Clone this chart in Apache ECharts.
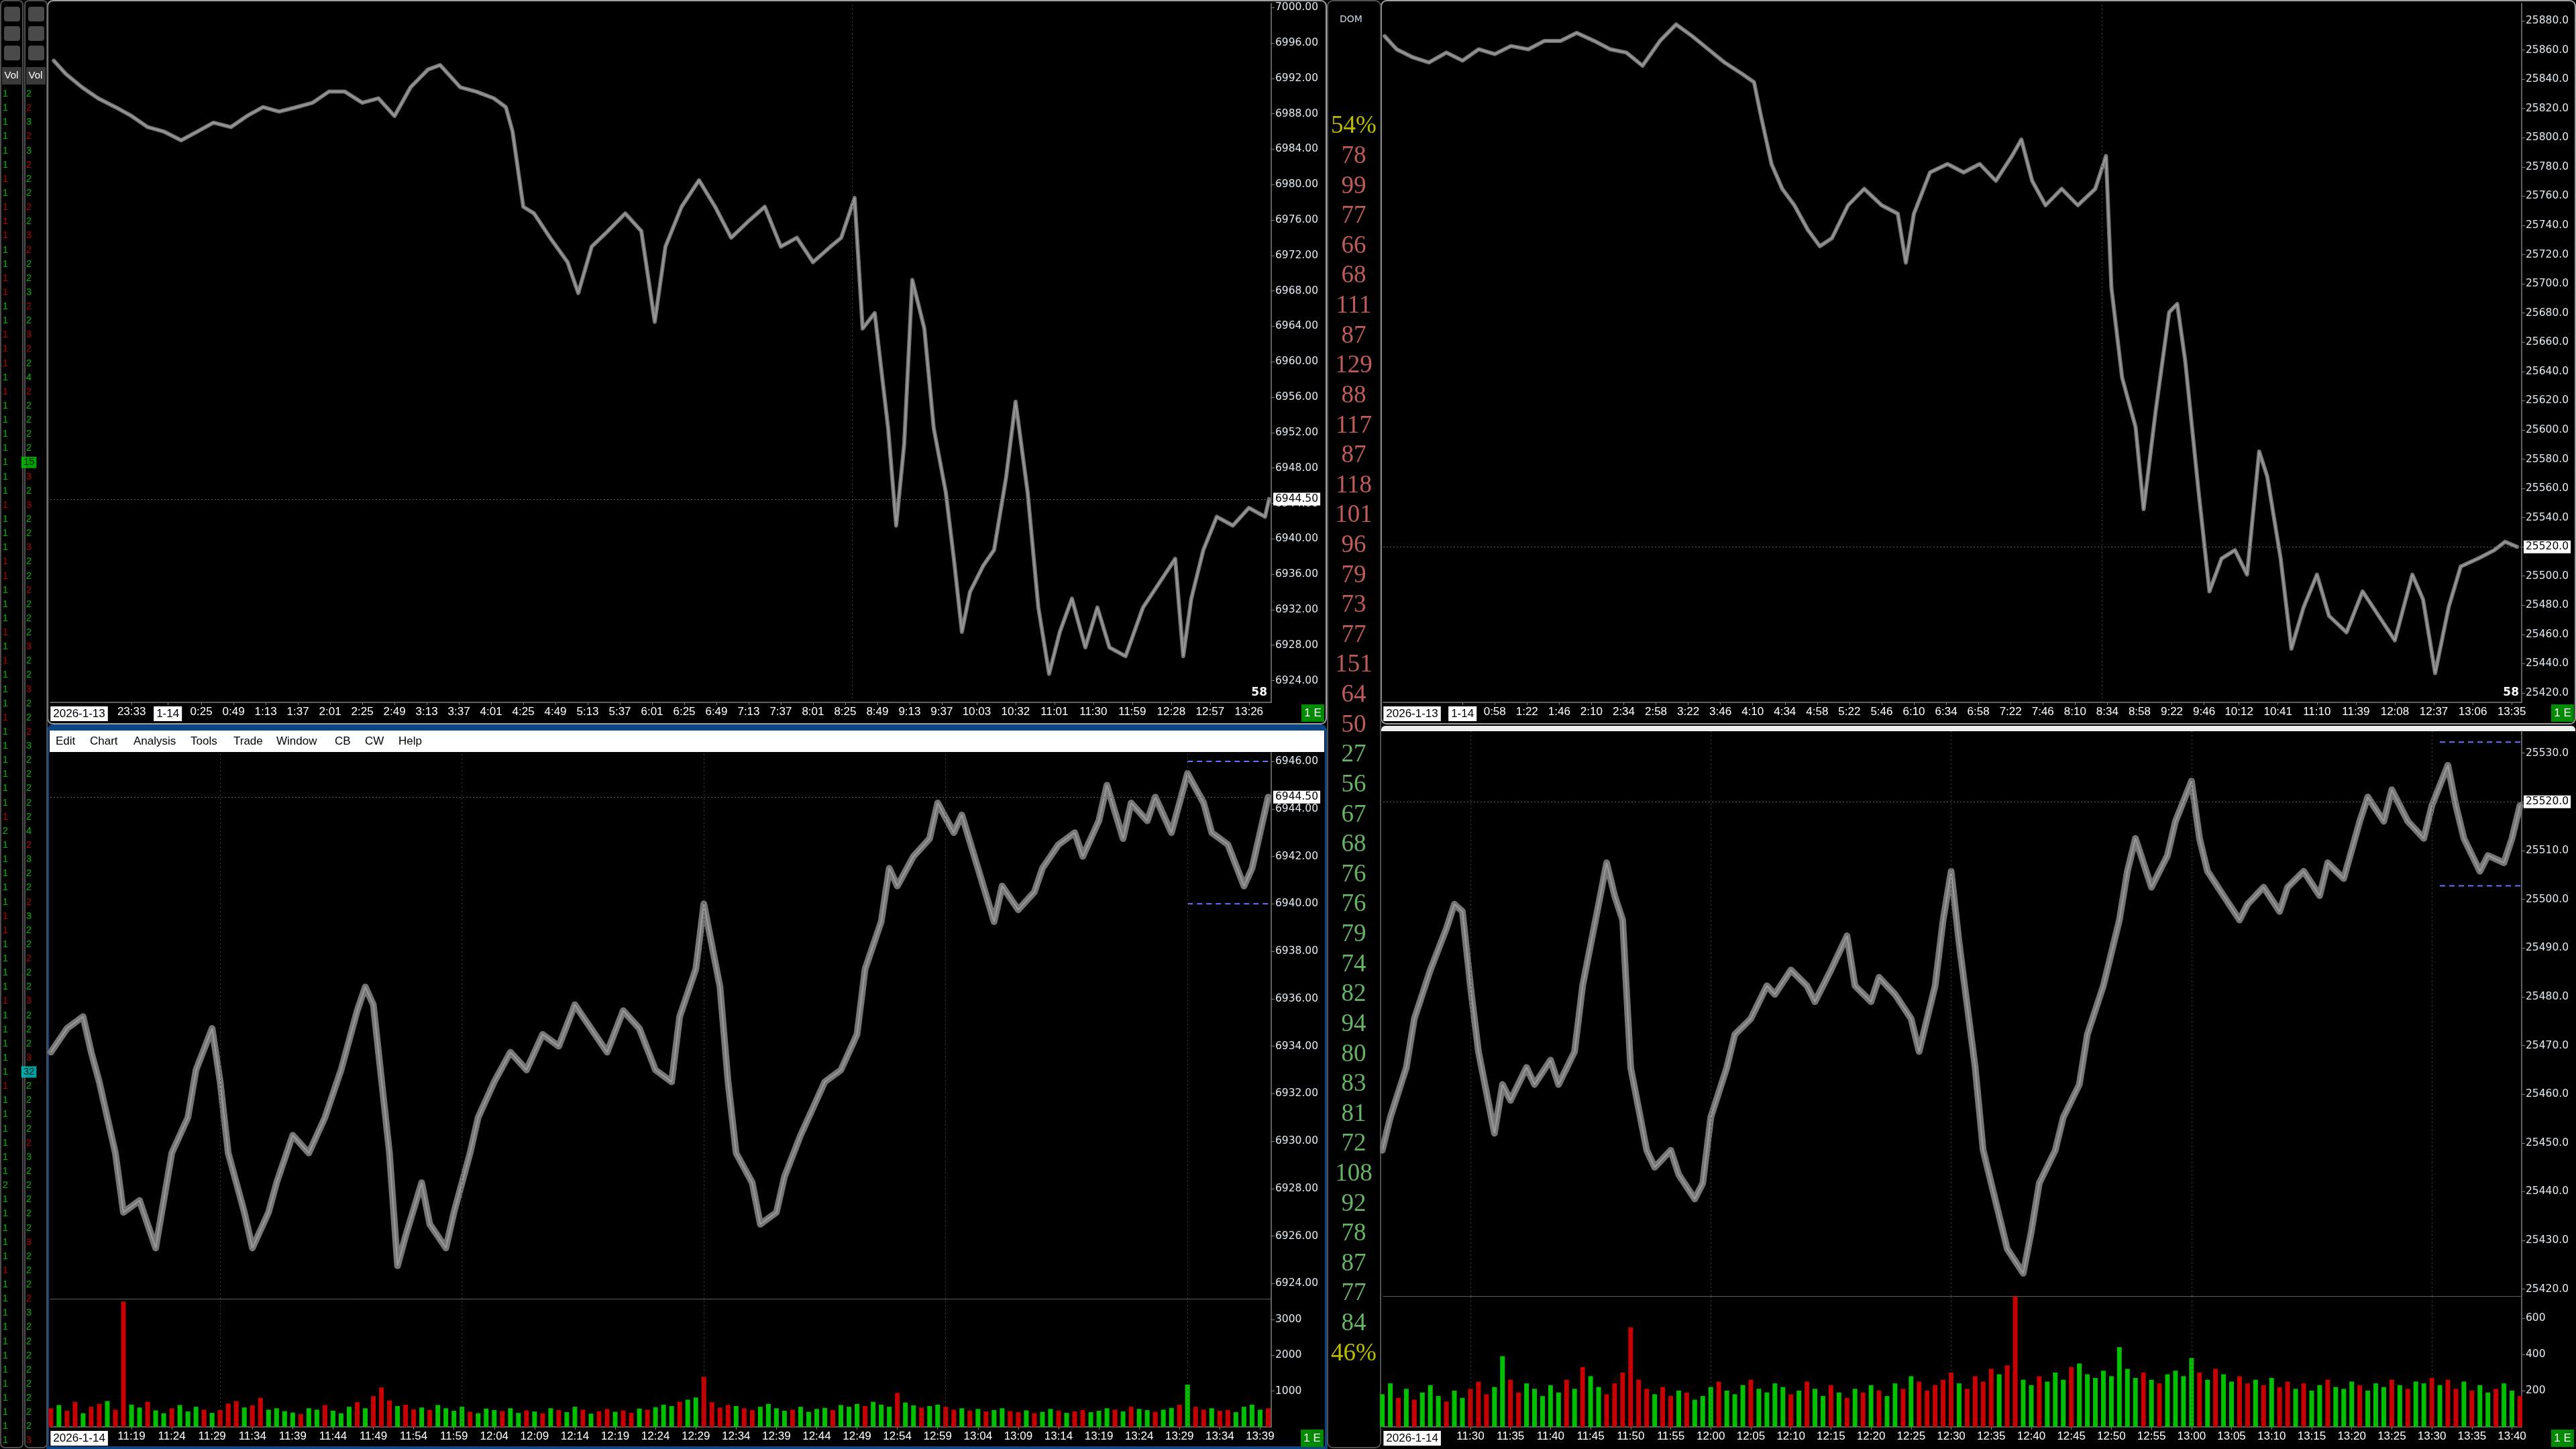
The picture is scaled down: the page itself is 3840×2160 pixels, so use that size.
<!DOCTYPE html>
<html><head><meta charset="utf-8">
<script src="https://cdn.jsdelivr.net/npm/echarts@6/dist/echarts.min.js"></script>
<style>html,body{margin:0;padding:0;background:#000;}#c{width:3840px;height:2160px;}</style>
</head><body><div id="c"></div>
<script>
// ================= DATA =================
// Top-left: ES overnight session (times on 1-13 are >= 20:00)
const tlTimes = ['22:35','22:44','22:56','23:08','23:21','23:33','23:45','23:57','00:10','00:22',
 '00:34','00:47','00:59','01:11','01:23','01:36','01:48','02:00','02:12','02:25',
 '02:37','02:49','03:01','03:14','03:23','03:38','03:50','04:03','04:12','04:17',
 '04:25','04:33','04:45','04:58','05:06','05:16','05:28','05:41','05:53','06:03',
 '06:11','06:23','06:36','06:48','07:00','07:12','07:25','07:37','07:49','08:01',
 '08:14','08:22','08:32','08:38','08:47','08:57','09:03','09:09','09:15','09:24',
 '09:31','09:40','09:46','09:52','09:58','10:08','10:16','10:25','10:32','10:41',
 '10:49','10:57','11:05','11:14','11:24','11:33','11:42','11:54','12:07','12:19',
 '12:31','12:37','12:43','12:52','13:02','13:14','13:26','13:38','13:41'];
const tlPrices = [6994,6992.5,6991,6989.75,6988.75,6987.75,6986.5,6986,6985,6986,
 6987,6986.5,6987.75,6988.75,6988.25,6988.75,6989.25,6990.5,6990.5,6989.25,
 6989.75,6987.75,6991,6993,6993.5,6991,6990.5,6989.75,6988.75,6986,
 6977.5,6976.75,6974,6971.25,6967.75,6973,6974.75,6976.75,6974.75,6964.5,
 6973,6977.5,6980.5,6977.5,6974,6975.75,6977.5,6973,6974,6971.25,
 6973,6974,6978.5,6963.75,6965.5,6952.5,6941.5,6950.75,6969.25,6963.75,
 6952.5,6945.25,6937.75,6929.5,6934,6937,6938.75,6947,6955.5,6945.25,
 6932.25,6924.75,6929.5,6933.25,6927.75,6932.25,6927.75,6926.75,6932.25,6935,
 6937.75,6926.75,6933.25,6938.75,6942.5,6941.5,6943.5,6942.5,6944.5];

// Top-right: NQ overnight session
const trTimes = ['23:36','23:45','23:57','00:09','00:22','00:34','00:46','00:58','01:10','01:23',
 '01:35','01:47','01:59','02:12','02:24','02:36','02:48','03:01','03:13','03:25',
 '03:37','03:49','04:02','04:11','04:16','04:24','04:32','04:41','04:51','05:00',
 '05:09','05:21','05:33','05:46','05:58','06:04','06:10','06:22','06:35','06:47',
 '06:59','07:11','07:23','07:30','07:38','07:48','08:00','08:12','08:25','08:33',
 '08:37','08:45','08:55','09:01','09:10','09:20','09:26','09:32','09:42','09:50',
 '09:59','10:09','10:18','10:27','10:33','10:43','10:51','11:00','11:10','11:19',
 '11:32','11:44','11:56','12:08','12:21','12:29','12:38','12:48','12:57','13:10',
 '13:22','13:30','13:39'];
const trPrices = [25869.5,25860.5,25855,25851.5,25858.25,25852.75,25860.5,25857.25,25862.75,25860.5,
 25866.25,25866.25,25871.75,25866.25,25860.5,25858.25,25849.25,25866.25,25877.5,25869.5,
 25860.5,25851.5,25843.75,25838,25815.5,25782,25765,25753.75,25737,25725.75,
 25731.25,25753.75,25765,25753.75,25748,25714.5,25748,25776.25,25782,25776.25,
 25782,25770.5,25787.5,25798.75,25770.5,25753.75,25765,25753.75,25765,25787.5,
 25697.5,25635.75,25602,25545.75,25613.25,25680.5,25686.25,25647,25557,25489.5,
 25512,25517.75,25501,25585.25,25568.25,25512,25450.25,25478.5,25501,25472.75,
 25461.5,25489.5,25472.75,25456,25501,25484,25433.5,25478.5,25506.5,25512,
 25517.75,25523.5,25520];

// Bottom-left: ES intraday 1-14
const blTimes = ['11:09','11:11','11:13','11:14','11:15','11:17','11:18','11:20','11:22','11:24',
 '11:26','11:27','11:29','11:30','11:31','11:33','11:34','11:36','11:37','11:39',
 '11:41','11:43','11:45','11:47','11:48','11:49','11:51','11:52','11:53','11:55',
 '11:56','11:58','11:59','12:01','12:02','12:04','12:06','12:08','12:10','12:12',
 '12:14','12:16','12:18','12:20','12:22','12:24','12:26','12:27','12:29','12:30',
 '12:32','12:33','12:34','12:36','12:37','12:39','12:40','12:42','12:44','12:45',
 '12:47','12:49','12:50','12:52','12:53','12:54','12:56','12:58','12:59','13:01',
 '13:02','13:04','13:06','13:07','13:09','13:11','13:12','13:14','13:16','13:17',
 '13:19','13:20','13:22','13:23','13:25','13:26','13:28','13:29','13:30','13:32',
 '13:33','13:35','13:37','13:38','13:39','13:40'];
const blPrices = [6933.75,6934.75,6935.25,6933.75,6932.5,6929.5,6927,6927.5,6925.5,6929.5,
 6931,6933,6934.75,6932.5,6929.5,6927,6925.5,6927,6928.25,6930.25,
 6929.5,6931,6933,6935.5,6936.5,6935.75,6929.5,6924.75,6926,6928.25,
 6926.5,6925.5,6927,6929.5,6931,6932.5,6933.75,6933,6934.5,6934,
 6935.75,6934.75,6933.75,6935.5,6934.75,6933,6932.5,6935.25,6937.25,6940,
 6936.5,6932.5,6929.5,6928.25,6926.5,6927,6928.5,6930.25,6931.75,6932.5,
 6933,6934.5,6937.25,6939.25,6941.5,6940.75,6942,6942.75,6944.25,6943,
 6943.75,6941.5,6939.25,6940.75,6939.75,6940.5,6941.5,6942.5,6943,6942,
 6943.5,6945,6942.75,6944.25,6943.5,6944.5,6943,6944.25,6945.5,6944.25,
 6943,6942.5,6940.75,6941.5,6943,6944.5];

// Bottom-right: NQ intraday 1-14
const brTimes = ['11:19','11:20','11:22','11:23','11:25','11:27','11:28','11:29','11:30','11:31',
 '11:33','11:34','11:35','11:37','11:38','11:40','11:41','11:43','11:44','11:46',
 '11:47','11:48','11:49','11:50','11:52','11:53','11:55','11:56','11:58','11:59',
 '12:00','12:02','12:03','12:05','12:07','12:08','12:10','12:12','12:13','12:15',
 '12:17','12:18','12:20','12:21','12:23','12:25','12:26','12:28','12:29','12:30',
 '12:31','12:33','12:34','12:35','12:36','12:37','12:39','12:40','12:41','12:43',
 '12:44','12:46','12:47','12:49','12:51','12:52','12:53','12:55','12:57','12:58',
 '13:00','13:01','13:02','13:04','13:06','13:07','13:09','13:11','13:12','13:14',
 '13:16','13:17','13:19','13:21','13:22','13:24','13:25','13:27','13:29','13:30',
 '13:32','13:33','13:34','13:36','13:37','13:39','13:40','13:41'];
const brPrices = [25448.5,25455.25,25465.5,25475.5,25485.5,25494,25499,25497.5,25482.25,25468.75,
 25452,25462,25458.75,25465.5,25462,25467,25462,25468.75,25482.25,25499,
 25507.5,25500.75,25495.75,25465.5,25448.5,25445,25448.5,25443.5,25438.5,25441.75,
 25455.25,25465.5,25472.25,25475.5,25482.25,25480.5,25485.5,25482.25,25479,25485.5,
 25492.5,25482.25,25479,25484,25480.5,25475.5,25468.75,25482.25,25495.75,25505.75,
 25491,25465.5,25448.5,25441.75,25435,25428.25,25423.25,25431.75,25441.75,25448.5,
 25455.25,25462,25472.25,25482.25,25495.75,25505.75,25512.5,25502.5,25509,25516,
 25524.25,25512.5,25505.75,25500.75,25495.75,25499,25502.5,25497.5,25502.5,25505.75,
 25500.75,25507.5,25504.25,25516,25521,25516,25522.5,25516,25512.5,25519.25,
 25527.5,25519.25,25512.5,25505.75,25509,25507.5,25512.5,25519.25];

// Volume per minute (g = up, r = down)
const blVolStart = '11:09';
const blVol = [520,610,450,700,380,560,640,720,480,3500,
 620,540,700,460,380,520,610,430,560,480,
 390,470,650,720,540,600,810,480,520,440,
 400,360,520,480,610,450,380,560,690,520,
 860,1100,740,580,620,490,540,470,610,520,
 450,560,420,380,510,470,440,520,390,460,
 430,380,520,470,410,560,480,370,440,500,
 420,460,390,510,480,550,620,580,700,760,
 820,1400,690,540,610,580,520,470,560,640,
 520,450,480,560,420,500,530,470,610,560,
 640,580,700,620,560,950,680,600,540,580,
 620,560,480,520,450,500,430,470,520,440,
 410,460,380,420,500,450,390,430,470,410,
 450,520,480,430,560,500,470,420,480,530,
 620,1180,560,480,520,450,470,410,560,620,480,520];
const blVolDir = 'rgrrgrrgrr'+'ggrggrgggr'+'grrrgrrggg'+'grggrgggrg'+'rrrgrrgrgg'+'ggrgggrggr'+'grgrggrgrr'+
 'grrgrgggrg'+'grrrrgrrgg'+'ggrggggrgg'+'grgggrggrg'+'grrgrgrggr'+'rgrggrgrrg'+'ggrgrggrgg'+'rgrrgrrggggr';
const brVolStart = '11:19';
const brVol = [180,240,160,210,150,190,230,170,140,200,
 160,210,250,180,220,390,260,190,240,210,
 170,230,190,260,210,330,280,220,180,240,
 300,550,260,210,180,220,170,200,190,150,
 170,220,250,200,180,230,260,210,190,240,
 220,180,200,250,210,170,230,190,160,210,
 190,230,200,170,240,210,280,250,200,230,
 260,300,240,210,280,250,320,290,340,720,
 260,230,280,250,300,260,330,350,290,270,
 310,280,440,320,270,300,260,240,290,310,
 280,380,300,260,320,290,250,280,240,260,
 230,270,220,250,210,240,200,230,260,220,
 210,250,230,200,240,220,260,230,210,250,
 240,270,230,260,210,250,200,230,190,210,
 240,200,170];
const brVolDir = 'ggrgrgggrg'+'grrrggrrgg'+'gggrgrggrr'+'rrrrgrrgrg'+'ggrgggrggg'+'grgrggrgrg'+'rgrggrgrrr'+
 'rrgrrrrgrr'+'ggrgggrggg'+'gggggrgrgg'+'ggrgrggrrg'+'rgrrgrggrg'+'ggrgggrgrg'+'grgrrgrggr'+'ggr';

// Last prices, range markers, session lines
const lastES = 6944.50, lastNQ = 25520.0;
const blRange = [6940, 6946], blRangeStart = '13:30';
const brRange = [25502.75, 25532.25], brRangeStart = '13:31';
const sessionOpen = ['08:30'];
const halfHours = ['11:30','12:00','12:30','13:00','13:30'];

// Axis tick labels
const tlYTicks = [6924,6928,6932,6936,6940,6944,6948,6952,6956,6960,6964,6968,6972,6976,6980,6984,6988,6992,6996,7000];
const trYTicks = [25420,25440,25460,25480,25500,25520,25540,25560,25580,25600,25620,25640,25660,25680,25700,25720,25740,25760,25780,25800,25820,25840,25860,25880];
const blYTicks = [6924,6926,6928,6930,6932,6934,6936,6938,6940,6942,6944,6946];
const brYTicks = [25420,25430,25440,25450,25460,25470,25480,25490,25500,25510,25520,25530];
const blVolTicks = [1000,2000,3000];
const brVolTicks = [200,400,600];
const tlXLabels = ['2026-1-13','23:33','1-14','0:25','0:49','1:13','1:37','2:01','2:25','2:49','3:13','3:37','4:01','4:25','4:49','5:13','5:37','6:01','6:25','6:49','7:13','7:37','8:01','8:25','8:49','9:13','9:37','10:03','10:32','11:01','11:30','11:59','12:28','12:57','13:26'];
const tlDayTick = '0:00';
const trXLabels = ['2026-1-13','1-14','0:58','1:22','1:46','2:10','2:34','2:58','3:22','3:46','4:10','4:34','4:58','5:22','5:46','6:10','6:34','6:58','7:22','7:46','8:10','8:34','8:58','9:22','9:46','10:12','10:41','11:10','11:39','12:08','12:37','13:06','13:35'];
const trDayTick = '0:34';
const blXLabels = ['2026-1-14','11:19','11:24','11:29','11:34','11:39','11:44','11:49','11:54','11:59','12:04','12:09','12:14','12:19','12:24','12:29','12:34','12:39','12:44','12:49','12:54','12:59','13:04','13:09','13:14','13:19','13:24','13:29','13:34','13:39'];
const brXLabels = ['2026-1-14','11:30','11:35','11:40','11:45','11:50','11:55','12:00','12:05','12:10','12:15','12:20','12:25','12:30','12:35','12:40','12:45','12:50','12:55','13:00','13:05','13:10','13:15','13:20','13:25','13:30','13:35','13:40'];

// DOM ladder
const domAskShare = '54%';
const domAsks = [78,99,77,66,68,111,87,129,88,117,87,118,101,96,79,73,77,151,64,50];
const domBids = [27,56,67,68,76,76,79,74,82,94,80,83,81,72,108,92,78,87,77,84];
const domBidShare = '46%';

// Left strip columns (value digits, colour g/r)
const stripCol1Vals = '11111111'+'11111111'+'11111111'+'11111111'+'11111111'+'11111111'+'11112111'+'11111111'+'11111111'+'11111211'+'11111111'+'11111111';
const stripCol1Dir  = 'ggggggrg'+'rrrggrrg'+'grrrgrgg'+'gggggrgg'+'grrgggrg'+'rgggrggg'+'gggrgggg'+'ggrrgggg'+'rgggggrg'+'gggggggg'+'gggrgggg'+'gggggggg';
const stripCol2Vals = '22323222'+'22322232'+'23224222'+'22232322'+'32222223'+'22322232'+'22224232'+'22322222'+'32223222'+'22232222'+'23222232'+'22222223';
const stripCol2Dir  = 'grgrgrgg'+'rgrrgggr'+'grrggrgg'+'gggrgrgg'+'rggrgggr'+'ggrggrgg'+'gggggrgg'+'grgggrgg'+'rgggrggg'+'ggrggggg'+'grgggrgg'+'gggggggr';
const stripCol2Marks = {26: ['15', '#00c800'], 69: ['32', '#00c8c8']};

// ================= BUILD =================
const FX = 'Liberation Sans, Arial, sans-serif';
const FY = 'DejaVu Sans, Verdana, sans-serif';
const AXC = '#808080';
function tmin(s){ const p=s.split(':').map(Number); let v=p[0]*60+p[1]; if(p[0]>=20) v-=1440; return v; }
const zip = (ts, ps) => ts.map((t,i)=>[tmin(t), ps[i]]);

function mkY(gi, min, max, ticks, dec){
  return {type:'value', gridIndex:gi, position:'right', min, max,
    axisLine:{show:true, onZero:false, lineStyle:{color:AXC, width:1.5}},
    axisTick:{show:true, length:5, customValues:ticks, lineStyle:{color:AXC}},
    axisLabel:{show:true, customValues:ticks, margin:6, color:'#e2eaf2', fontFamily:FY, fontSize:15.5,
      formatter:v=>Number(v).toFixed(dec)},
    splitLine:{show:false}};
}
function mkX(gi, min, max, labels, dayTick, show){
  const vals = labels.map((s,i)=> i===0 ? min+0.01 : (s.indexOf('-')>=0 ? tmin(dayTick) : tmin(s)));
  return {type:'value', gridIndex:gi, min, max,
    axisLine:{show:true, onZero:false, lineStyle:{color:show?AXC:'#5c5c5c', width:show?1.5:1}},
    axisTick:{show:show, length:4, customValues:vals.slice(1), lineStyle:{color:AXC}},
    axisLabel:{show:show, customValues:vals, margin:6, color:'#ffffff', fontFamily:FX, fontSize:17,
      formatter:v=>{ let b=0,bd=1e9; vals.forEach((t,i)=>{const d=Math.abs(t-v); if(d<bd){bd=d;b=i;}});
        const s=labels[b]; if(b===0) return '{sp|}{d|'+s+'}'; if(s.indexOf('-')>=0) return '{d|'+s+'}'; return s; },
      rich:{sp:{width:86,fontSize:17,fontFamily:FX}, d:{backgroundColor:'#ffffff',color:'#000000',padding:[3,4,2,4],fontSize:17,fontFamily:FX}}},
    splitLine:{show:false}};
}
function hidX(gi){ return {type:'value', gridIndex:gi, min:0, max:1, show:false}; }
function catY(gi, n){ return {type:'category', gridIndex:gi, inverse:true, show:false, data:Array.from({length:n},(_,i)=>i)}; }

const dotLine = {color:'#3c3c3c', type:[2,4], width:1};
function priceMark(last, dec, vlines){
  return {symbol:'none', silent:true, animation:false, label:{show:false},
    data:[{yAxis:last, lineStyle:{color:'#5e5e5e', type:[2,3], width:1},
           label:{show:true, position:'end', distance:3, formatter:last.toFixed(dec), backgroundColor:'#ffffff', color:'#000000', fontFamily:FY, fontSize:15.5, padding:[2,3,1,3]}}]
      .concat(vlines.map(t=>({xAxis:tmin(t), lineStyle:dotLine})))};
}
function vMark(vlines){ return {symbol:'none', silent:true, label:{show:false}, data:vlines.map(t=>({xAxis:tmin(t), lineStyle:dotLine}))}; }
// price drawn as a grey band (bar ranges) with a slightly lighter core line
function priceBand(xi, data, w){
  return {type:'line', xAxisIndex:xi, yAxisIndex:xi, data, showSymbol:false, symbol:'none', animation:false, silent:true,
    lineStyle:{color:'#767676', width:w, join:'round', cap:'round'}, z:2};
}
function priceLine(xi, data, mark){
  return {type:'line', xAxisIndex:xi, yAxisIndex:xi, data, showSymbol:false, symbol:'none', animation:false,
    lineStyle:{color:'#9c9c9c', width:2}, z:3, markLine:mark};
}
function volBars(xi, start, vols, dirs){
  const s0 = tmin(start);
  return {type:'bar', xAxisIndex:xi, yAxisIndex:xi, barWidth:7, animation:false,
    data: vols.map((v,i)=>({value:[s0+i, v], itemStyle:{color: dirs[i]==='r' ? '#c80000' : '#00c000'}}))};
}
function rangeLines(xi, start, end, lv){
  return lv.map(y=>({type:'line', xAxisIndex:xi, yAxisIndex:xi, symbol:'none', animation:false, z:4,
    data:[[tmin(start), y],[end, y]], lineStyle:{color:'#7070ff', type:[8,6], width:2}}));
}

const XR = {tl:[-87.6, 822.6], tr:[-25.0, 822.4], bl:[668.93, 820.38], br:[679.12, 821.21]};

// DOM rows
const YEL='#e8e800', RED='#f07272', GRN='#80e080';
const domRows = [{t:domAskShare,c:YEL}].concat(domAsks.map(v=>({t:String(v),c:RED})), domBids.map(v=>({t:String(v),c:GRN})), [{t:domBidShare,c:YEL}]);
function textScatter(gi, rows, font, size){
  return {type:'scatter', xAxisIndex:gi, yAxisIndex:gi, symbolSize:1, animation:false, silent:true,
    itemStyle:{color:'rgba(0,0,0,0)'},
    label:{show:true, position:'inside', formatter:'{b}', fontFamily:font, fontSize:size},
    data: rows.map((r,i)=>({name:r.t, value:[0.5,i], label:Object.assign({color:r.c}, r.bg?{backgroundColor:r.bg, padding:[1,3]}:{})}))};
}
const stripRows1 = stripCol1Vals.split('').map((v,i)=>({t:v, c: stripCol1Dir[i]==='r'?'#e00000':'#00e000'}));
const stripRows2 = stripCol2Vals.split('').map((v,i)=> stripCol2Marks[i] ? {t:stripCol2Marks[i][0], c:'#000000', bg:stripCol2Marks[i][1]} : ({t:v, c: stripCol2Dir[i]==='r'?'#e00000':'#00e000'}));

const grids = [
  {left:75, top:5, width:1820, height:1042},
  {left:2062, top:5, width:1697, height:1042},
  {left:75, top:1122, width:1820, height:814},
  {left:75, top:1936, width:1820, height:191},
  {left:2062, top:1090, width:1697, height:842},
  {left:2062, top:1932, width:1697, height:195},
  {left:1980, top:166.3, width:76, height:1874},
  {left:2, top:129.4, width:12, height:2028.5},
  {left:37, top:129.4, width:12, height:2028.5}
];

// window chrome & overlay texts
const menuItems = [['Edit',83],['Chart',134],['Analysis',199],['Tools',284],['Trade',348],['Window',412],['CB',499],['CW',544],['Help',594]];
const graphics = [
  {type:'rect', z:-1, shape:{x:71,y:1,width:1906,height:1078,r:8}, style:{fill:null, stroke:'#a0a0a0', lineWidth:2}},
  {type:'rect', z:-1, shape:{x:2059,y:1,width:1780,height:1078,r:8}, style:{fill:null, stroke:'#a0a0a0', lineWidth:2}},
  {type:'rect', z:-1, shape:{x:71,y:1082,width:1906,height:1076,r:[10,10,0,0]}, style:{fill:null, stroke:'#0a4585', lineWidth:4}},
  {type:'rect', z:-1, shape:{x:71,y:1080,width:1906,height:9,r:[8,8,0,0]}, style:{fill:'#0a4585'}},
  {type:'rect', z:-1, shape:{x:74,y:1089,width:1900,height:32}, style:{fill:'#ffffff'}},
  {type:'rect', z:-1, shape:{x:2059,y:1082,width:1780,height:8,r:[6,6,0,0]}, style:{fill:'#efefef'}},
  {type:'rect', z:-1, shape:{x:1979,y:1,width:79,height:2157,r:8}, style:{fill:null, stroke:'#505050', lineWidth:2}},
  {type:'rect', z:-1, shape:{x:1,y:1,width:33,height:2157,r:6}, style:{fill:null, stroke:'#505050', lineWidth:2}},
  {type:'rect', z:-1, shape:{x:37,y:1,width:33,height:2157,r:6}, style:{fill:null, stroke:'#505050', lineWidth:2}},
  {type:'rect', z:-1, shape:{x:3,y:100,width:29,height:26}, style:{fill:'#3a3a3a'}},
  {type:'rect', z:-1, shape:{x:39,y:100,width:29,height:26}, style:{fill:'#3a3a3a'}},
  {type:'text', x:17, y:113, style:{text:'Vol', fill:'#ffffff', font:'15px '+FX, textAlign:'center', textVerticalAlign:'middle'}},
  {type:'text', x:53, y:113, style:{text:'Vol', fill:'#ffffff', font:'15px '+FX, textAlign:'center', textVerticalAlign:'middle'}},
  {type:'text', x:2014, y:29, style:{text:'DOM', fill:'#c8d8e8', font:'14px '+FY, textAlign:'center', textVerticalAlign:'middle'}},
  {type:'text', x:1889, y:1033, style:{text:'58', fill:'#ffffff', font:'bold 17px '+FY, textAlign:'right', textVerticalAlign:'middle'}},
  {type:'text', x:3755, y:1033, style:{text:'58', fill:'#ffffff', font:'bold 17px '+FY, textAlign:'right', textVerticalAlign:'middle'}}
];
[0,1,2].forEach(k=>{ [[4],[40]].forEach(c=>{ graphics.push({type:'rect', z:-1, shape:{x:c[0]+2, y:10+k*29, width:24, height:22, r:4}, style:{fill:'#4a4a4a'}}); }); });
menuItems.forEach(m=>graphics.push({type:'text', x:m[1], y:1105, style:{text:m[0], fill:'#000000', font:'17px '+FX, textAlign:'left', textVerticalAlign:'middle'}}));
[[1940,1050],[3803,1050],[1939,2131],[3803,2131]].forEach(p=>{
  graphics.push({type:'rect', shape:{x:p[0],y:p[1],width:34,height:26}, style:{fill:'#008a00'}});
  graphics.push({type:'text', x:p[0]+17, y:p[1]+13, style:{text:'1 E', fill:'#ffffff', font:'17px '+FX, textAlign:'center', textVerticalAlign:'middle'}});
});

const tlData = zip(tlTimes, tlPrices), trData = zip(trTimes, trPrices), blData = zip(blTimes, blPrices), brData = zip(brTimes, brPrices);
const option = {
  backgroundColor:'#000000', animation:false,
  grid: grids,
  xAxis: [
    mkX(0, XR.tl[0], XR.tl[1], tlXLabels, tlDayTick, true),
    mkX(1, XR.tr[0], XR.tr[1], trXLabels, trDayTick, true),
    mkX(2, XR.bl[0], XR.bl[1], blXLabels, '0:00', false),
    mkX(3, XR.bl[0], XR.bl[1], blXLabels, '0:00', true),
    mkX(4, XR.br[0], XR.br[1], brXLabels, '0:00', false),
    mkX(5, XR.br[0], XR.br[1], brXLabels, '0:00', true),
    hidX(6), hidX(7), hidX(8)
  ],
  yAxis: [
    mkY(0, 6921.54, 7000.47, tlYTicks, 2),
    mkY(1, 25413.57, 25891.94, trYTicks, 1),
    mkY(2, 6923.36, 6946.37, blYTicks, 2),
    mkY(3, 0, 3579, blVolTicks, 0),
    mkY(4, 25418.58, 25534.5, brYTicks, 1),
    mkY(5, 0, 722, brVolTicks, 0),
    catY(6, domRows.length), catY(7, stripRows1.length), catY(8, stripRows2.length)
  ],
  series: [
    priceBand(0, tlData, 6), priceBand(1, trData, 6), priceBand(2, blData, 10), priceBand(4, brData, 10),
    priceLine(0, tlData, priceMark(lastES, 2, sessionOpen)),
    priceLine(1, trData, priceMark(lastNQ, 1, sessionOpen)),
    priceLine(2, blData, priceMark(lastES, 2, halfHours)),
    priceLine(4, brData, priceMark(lastNQ, 1, halfHours)),
    Object.assign(volBars(3, blVolStart, blVol, blVolDir), {markLine:vMark(halfHours)}),
    Object.assign(volBars(5, brVolStart, brVol, brVolDir), {markLine:vMark(halfHours)}),
    ...rangeLines(2, blRangeStart, XR.bl[1], blRange),
    ...rangeLines(4, brRangeStart, XR.br[1], brRange),
    textScatter(6, domRows, 'Liberation Serif, DejaVu Serif, serif', 37),
    textScatter(7, stripRows1, FX, 15),
    textScatter(8, stripRows2, FX, 15)
  ],
  graphic: graphics
};
const chart = echarts.init(document.getElementById('c'), null, {renderer:'canvas'});
chart.setOption(option);
</script>
</body></html>
